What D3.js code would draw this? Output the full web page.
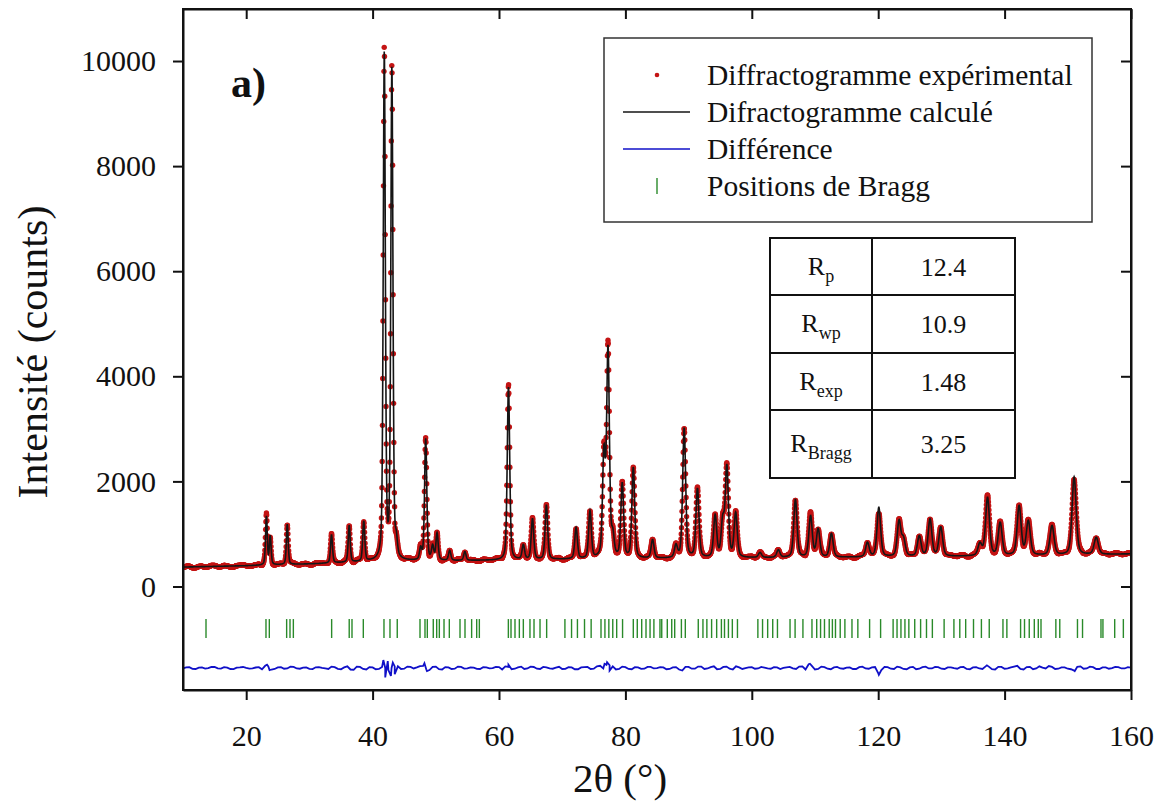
<!DOCTYPE html>
<html>
<head>
<meta charset="utf-8">
<script src="https://cdnjs.cloudflare.com/ajax/libs/d3/7.8.5/d3.min.js"></script>
<style>
  body { margin: 0; background: #fff; }
  svg text { font-family: "Liberation Serif", "DejaVu Serif", "Noto Serif", serif; fill: #111; }
</style>
</head>
<body>
<svg id="chart"></svg>
<script>
// ---- data ----
// peaks: 2theta position and apex height (counts)
const peakPos  = [23.2, 23.8, 26.5, 33.5, 36.3, 38.6, 41.85, 43.05, 43.75, 47.6, 48.4, 49.5, 50.2, 52.2, 54.6,
                  61.5, 63.85, 65.3, 67.5, 72.2, 74.4, 76.6, 77.25, 78.0, 79.5, 81.25, 84.3, 88.0, 89.3, 91.4,
                  94.2, 95.4, 96.05, 97.45, 101.3, 104.2, 106.9, 109.3, 110.5, 112.6, 118.3, 120.1, 123.3, 124.0,
                  126.5, 128.2, 129.9, 136.1, 137.3, 139.3, 142.3, 143.75, 147.5, 151.0, 154.5];
const peakApex = [1330, 950, 1180, 980, 1150, 1230, 10100, 9800, 750, 700, 2800, 750, 1000, 680, 660,
                  3800, 780, 1280, 1540, 1110, 1420, 2450, 4450, 900, 1930, 2250, 880, 760, 3000, 1850,
                  1330, 1200, 2250, 1380, 640, 690, 1650, 1330, 1080, 1000, 830, 1500, 1230, 880,
                  950, 1270, 1120, 800, 1680, 1200, 1520, 1230, 1150, 2080, 930];

// background knots
const bgPos = [10, 20, 30, 40, 50, 60, 70, 80, 90, 100, 110, 120, 130, 140, 150, 160];
const bgVal = [370, 395, 430, 470, 490, 500, 515, 525, 535, 545, 550, 560, 570, 580, 595, 620];

// Bragg reflection positions (2theta)
const braggPos = [13.64, 23.13, 23.66, 26.4, 26.93, 27.46, 33.52, 36.3, 36.74, 38.53, 41.8, 42.75, 43.9,
  47.5, 48.29, 48.66, 49.6, 50.14, 50.56, 51.3, 52.14, 53.83, 54.62, 55.67, 56.47, 56.89,
  61.48, 61.9, 62.53, 63.22, 63.85, 64.9, 65.54, 66.49, 67.54, 70.43, 71.48, 72.41, 73.53, 74.58,
  76.14, 76.76, 77.38, 78.0, 78.62, 79.55, 81.25, 81.88, 82.58, 83.26, 83.9, 84.51, 85.47, 85.75, 86.63,
  87.33, 87.8, 88.86, 89.48, 91.53, 92.27, 92.89, 93.64, 94.44, 95.19, 95.68, 96.3, 96.92, 97.73,
  100.96, 101.7, 102.51, 103.31, 104.06, 106.05, 106.85, 108.09, 109.52, 110.27, 110.88, 111.5,
  112.25, 112.75, 113.24, 113.99, 114.73, 115.85, 116.78, 118.64, 120.38, 122.36, 122.98, 123.6,
  124.23, 124.85, 125.78, 126.71, 127.64, 128.57, 130.43, 131.98, 132.91, 133.84, 135.08, 136.33,
  137.57, 139.74, 140.36, 142.53, 143.15, 143.9, 144.7, 145.33, 145.76, 148.11, 148.73, 151.53,
  152.33, 155.25, 155.56, 157.42, 158.79];

// difference curve (obs - calc): values at whole degrees 10..160
const diffWhole = [-10, 15, -20, 8, -5, 18, -12, 5, -22, 10, 0, -8, 14, 40, -30, 10, -15, 25, -10, 5,
  -18, 12, 0, -20, 15, -25, 30, -35, 20, -30, 10, -20, 0, 0, 30, -15, 20, 10, 40, -40,
  25, -30, 10, -15, 20, -10, 5, -20, 10, -5, 15, 30, -25, 10, -20, 25, -15, 20, -10, 5,
  -20, 15, -25, 10, 20, -15, 40, 60, 30, -20, 15, -25, 10, -15, 20, -5, 10, -20, 15, -50,
  20, -15, 25, -10, 30, -20, 25, -30, 10, -5, 15, -10, 5, -15, 10, 0, 20, -20, 30, 70,
  -30, 25, -15, 10, -10, 5, -20, 15, -10, 10, -100, 20, -15, 25, -20, 10, -25, 15, -10, 20,
  -15, 10, -5, 15, -20, 10, -10, 30, -25, 20, -15, 10, 40, -30, 20, -10, 5, 35, -20, 10,
  -15, -50, 30, -10, 15, -20, 10, -5, 15, -10, 5];
// ... and at half degrees 10.5..159.5
const diffHalf = [12, -18, 6, -14, 20, -8, 15, -20, 5, 18, -12, 8, -25, 30, -20, 15, -10, 20, -15, 8,
  -22, 15, -10, 25, -18, 10, -30, 25, -20, 15, -25, 20, -40, 30, -20, 25, -10, 35, -30, 20,
  -25, 15, -20, 25, -12, 10, -18, 14, -8, 20, -30, 20, -15, 25, -10, 18, -20, 12, -15, 22,
  -18, 10, -25, 15, -20, 30, -10, 50, -30, 25, -20, 15, -18, 20, -10, 15, -25, 10, -30, 20,
  -15, 25, -20, 15, -25, 20, -15, 30, -20, 10, -15, 20, -10, 15, -20, 12, -8, 25, -30, 40,
  -20, 15, -25, 20, -15, 10, -20, 25, -15, 18, -40, 15, -20, 10, -25, 20, -15, 25, -10, 15,
  -20, 10, -15, 20, -25, 15, -20, 25, -30, 20, -10, 25, -20, 15, -25, 30, -10, 20, -15, 10,
  -25, 20, -15, 25, -20, 10, -15, 20, -10, 15];
// sharper residual features at the strong reflections
const diffSpikePos = [23.3, 23.7, 41.7, 42.0, 42.4, 42.9, 43.2, 43.5, 48.2, 48.6, 61.5, 76.7, 77.1, 77.5, 109.2, 120.1, 137.2, 151.1];
const diffSpikeVal = [60, -40, 150, -180, 130, -150, 100, -120, 90, -60, 60, 80, 110, -50, 80, -130, 50, -60];
const diffOffset = -1550;

const xTicks = [20, 40, 60, 80, 100, 120, 140, 160];
const yTicks = [0, 2000, 4000, 6000, 8000, 10000];

const legendLabels = ["Diffractogramme expérimental", "Difractogramme calculé", "Différence", "Positions de Bragg"];
const rSubs = ["p", "wp", "exp", "Bragg"];
const rValues = ["12.4", "10.9", "1.48", "3.25"];

// ---- layout ----
const W = 1161, H = 809;
const L = 183, R = 1131, T = 9, B = 690;
const serif = "'Liberation Serif', 'DejaVu Serif', 'Noto Serif', serif";

const svg = d3.select("#chart").attr("width", W).attr("height", H);
svg.append("rect").attr("width", W).attr("height", H).attr("fill", "#fff");

const x = d3.scaleLinear().domain([10, 160]).range([L, R]);
const y = d3.scaleLinear().domain([-1970, 10990]).range([B, T]);

// ---- build profiles ----
const bgScale = d3.scaleLinear().domain(bgPos).range(bgVal);
const fwhm = t => 0.28 + 0.0035 * (t - 10);
const eta = 0.4;
const peaks = peakPos.map((p, i) => ({ p: p, h: fwhm(p), net: peakApex[i] - bgScale(p) }));

function pv(d, h) {
  const u = (d / h) * (d / h);
  return eta / (1 + 4 * u) + (1 - eta) * Math.exp(-4 * Math.LN2 * u);
}
function calc(t) {
  let s = bgScale(t);
  peaks.forEach(k => {
    const d = t - k.p;
    if (Math.abs(d) < 25 * k.h) s += k.net * pv(d, k.h);
  });
  return s;
}

// difference knots
let diffPts = diffWhole.map((v, i) => [10 + i, v])
  .concat(diffHalf.map((v, i) => [10.5 + i, v]));
diffSpikePos.forEach((p, i) => diffPts.push([p, diffSpikeVal[i]]));
diffPts.sort((a, b) => a[0] - b[0]);
const diffScale = d3.scaleLinear().domain(diffPts.map(d => d[0])).range(diffPts.map(d => d[1]));

const step = 0.04;
const grid = d3.range(10, 160.0001, step);
const calcData = grid.map(t => [t, calc(t)]);
const obsData = calcData.map(d => [d[0], d[1] + diffScale(d[0])]);

// ---- plot ----
svg.append("clipPath").attr("id", "clip")
  .append("rect").attr("x", L).attr("y", T).attr("width", R - L).attr("height", B - T);
const plot = svg.append("g").attr("clip-path", "url(#clip)");

// bragg ticks
plot.selectAll("line.bragg").data(braggPos).enter().append("line")
  .attr("class", "bragg")
  .attr("x1", d => x(d)).attr("x2", d => x(d))
  .attr("y1", y(-620)).attr("y2", y(-980))
  .attr("stroke", "#2a8a2a").attr("stroke-width", 1.4);

// difference
plot.append("path").datum(diffPts)
  .attr("fill", "none").attr("stroke", "#1010c8").attr("stroke-width", 1.8)
  .attr("d", d3.line().x(d => x(d[0])).y(d => y(d[1] + diffOffset)));

// observed dots
plot.selectAll("circle.obs").data(obsData).enter().append("circle")
  .attr("class", "obs")
  .attr("cx", d => x(d[0])).attr("cy", d => y(d[1]))
  .attr("r", 2.7).attr("fill", "#c41414");

// calculated line
plot.append("path").datum(calcData)
  .attr("fill", "none").attr("stroke", "#151515").attr("stroke-width", 1.6)
  .attr("d", d3.line().x(d => x(d[0])).y(d => y(d[1])));

// ---- axes ----
const gx = svg.append("g").attr("transform", `translate(0,${B})`)
  .call(d3.axisBottom(x).tickValues(xTicks).tickFormat(d3.format("d")).tickSize(10).tickSizeOuter(0).tickPadding(25));
const gy = svg.append("g").attr("transform", `translate(${L},0)`)
  .call(d3.axisLeft(y).tickValues(yTicks).tickFormat(d3.format("d")).tickSize(10).tickSizeOuter(0).tickPadding(17));
const gt = svg.append("g").attr("transform", `translate(0,${T})`)
  .call(d3.axisTop(x).tickValues(xTicks).tickSize(-10).tickSizeOuter(0).tickFormat(""));
const gr = svg.append("g").attr("transform", `translate(${R},0)`)
  .call(d3.axisLeft(y).tickValues(yTicks).tickSize(10).tickSizeOuter(0).tickFormat(""));
[gx, gy, gt, gr].forEach(g => {
  g.attr("font-family", serif).attr("font-size", 30);
  g.selectAll("line").attr("stroke", "#111").attr("stroke-width", 2);
  g.select(".domain").attr("stroke", "#111").attr("stroke-width", 2);
  g.selectAll("text").attr("fill", "#111");
});
svg.append("rect").attr("x", L).attr("y", T).attr("width", R - L).attr("height", B - T)
  .attr("fill", "none").attr("stroke", "#111").attr("stroke-width", 2);

// axis titles
svg.append("text").attr("x", 620).attr("y", 792).attr("text-anchor", "middle")
  .attr("font-size", "41px").text("2θ (°)");
svg.append("text").attr("transform", "translate(47,352) rotate(-90)").attr("text-anchor", "middle")
  .attr("font-size", "42px").text("Intensité (counts)");

// panel label
svg.append("text").attr("x", 231).attr("y", 97).attr("font-size", "42px").attr("font-weight", "bold").text("a)");

// ---- legend ----
const lg = svg.append("g");
lg.append("rect").attr("x", 604).attr("y", 38).attr("width", 488).attr("height", 184)
  .attr("fill", "#fff").attr("stroke", "#333").attr("stroke-width", 1.5);
const rowY = [75, 112, 149, 186];
legendLabels.forEach((t, i) => {
  lg.append("text").attr("x", 707).attr("y", rowY[i] + 10).attr("font-size", "29.5px").text(t);
});
lg.append("circle").attr("cx", 657).attr("cy", rowY[0]).attr("r", 2.3).attr("fill", "#c41414");
lg.append("line").attr("x1", 623).attr("x2", 690).attr("y1", rowY[1]).attr("y2", rowY[1])
  .attr("stroke", "#151515").attr("stroke-width", 1.5);
lg.append("line").attr("x1", 623).attr("x2", 690).attr("y1", rowY[2]).attr("y2", rowY[2])
  .attr("stroke", "#1010c8").attr("stroke-width", 1.5);
lg.append("line").attr("x1", 657).attr("x2", 657).attr("y1", rowY[3] - 8).attr("y2", rowY[3] + 8)
  .attr("stroke", "#2a8a2a").attr("stroke-width", 1.4);

// ---- R-factor table ----
const tb = svg.append("g");
const tx = [770, 872, 1015];
const ty = [238, 295, 353, 410, 478];
tb.append("rect").attr("x", tx[0]).attr("y", ty[0]).attr("width", tx[2] - tx[0]).attr("height", ty[4] - ty[0])
  .attr("fill", "#fff").attr("stroke", "#111").attr("stroke-width", 2);
tb.append("line").attr("x1", tx[1]).attr("x2", tx[1]).attr("y1", ty[0]).attr("y2", ty[4])
  .attr("stroke", "#111").attr("stroke-width", 2);
ty.slice(1, 4).forEach(v => tb.append("line").attr("x1", tx[0]).attr("x2", tx[2]).attr("y1", v).attr("y2", v)
  .attr("stroke", "#111").attr("stroke-width", 2));
rSubs.forEach((s, i) => {
  const cy = (ty[i] + ty[i + 1]) / 2;
  const t = tb.append("text").attr("x", (tx[0] + tx[1]) / 2).attr("y", cy + 8)
    .attr("text-anchor", "middle").attr("font-size", "26px");
  t.append("tspan").text("R");
  t.append("tspan").attr("font-size", "18px").attr("dy", 7).text(s);
  tb.append("text").attr("x", (tx[1] + tx[2]) / 2).attr("y", cy + 9)
    .attr("text-anchor", "middle").attr("font-size", "26px").text(rValues[i]);
});
</script>
</body>
</html>
